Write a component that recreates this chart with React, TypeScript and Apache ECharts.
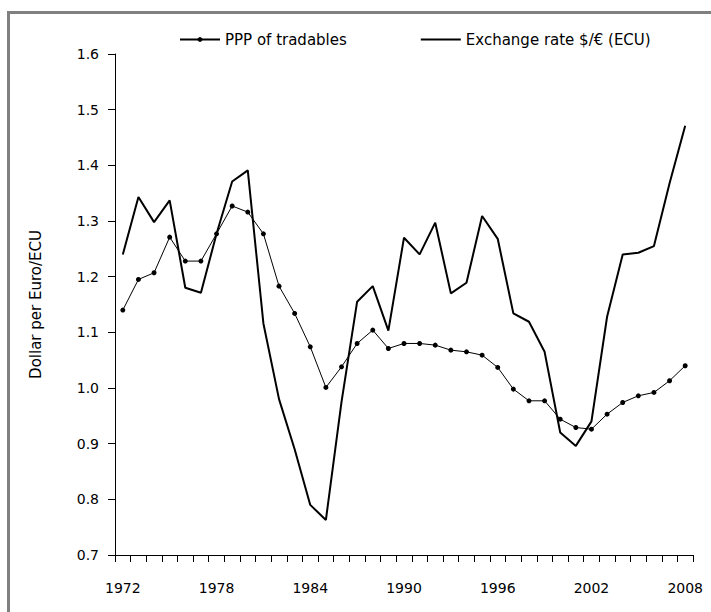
import React, { useEffect, useRef } from "react";
import * as echarts from "echarts";

const years: string[] = [];
for (let y = 1972; y <= 2008; y++) years.push(String(y));

const pppTradables = [
  1.140, 1.195, 1.207, 1.271, 1.228, 1.228, 1.277, 1.327, 1.316, 1.277,
  1.183, 1.134, 1.074, 1.001, 1.038, 1.080, 1.104, 1.071, 1.080, 1.080,
  1.077, 1.068, 1.065, 1.059, 1.037, 0.998, 0.977, 0.977, 0.944, 0.929,
  0.926, 0.953, 0.974, 0.986, 0.992, 1.013, 1.040,
];

const exchangeRate = [
  1.240, 1.343, 1.298, 1.337, 1.180, 1.171, 1.277, 1.371, 1.391, 1.116,
  0.980, 0.890, 0.790, 0.763, 0.975, 1.155, 1.183, 1.103, 1.270, 1.240,
  1.297, 1.170, 1.189, 1.309, 1.268, 1.134, 1.119, 1.065, 0.920, 0.896,
  0.940, 1.128, 1.240, 1.243, 1.255, 1.368, 1.471,
];

const seriesNames = ["PPP of tradables", "Exchange rate $/\u20ac (ECU)"];
const yAxisTitle = "Dollar per Euro/ECU";

const FONT = "DejaVu Sans";

export default function App() {
  const ref = useRef<HTMLDivElement>(null);
  useEffect(() => {
    if (!ref.current) return;
    const chart = echarts.init(ref.current, undefined, { renderer: "svg" });
    chart.setOption({
      animation: false,
      backgroundColor: "#ffffff",
      textStyle: { fontFamily: FONT, color: "#000" },
      graphic: [
        {
          type: "rect",
          shape: { x: 8.5, y: 12.5, width: 800, height: 700 },
          style: { fill: "none", stroke: "#808080", lineWidth: 3 },
          silent: true,
        },
      ],
      legend: {
        left: 174,
        top: 27,
        itemWidth: 40,
        itemHeight: 6,
        itemGap: 74,
        textStyle: { fontFamily: FONT, fontSize: 15, color: "#000" },
        data: [
          { name: seriesNames[0] },
          {
            name: seriesNames[1],
            icon: "path://M0,0H40V2H0Z",
            itemStyle: { color: "#000" },
          },
        ],
      },
      grid: { left: 115, right: 18, top: 54, bottom: 57, containLabel: false },
      xAxis: {
        type: "category",
        data: years,
        boundaryGap: true,
        axisLine: { show: true, lineStyle: { color: "#000", width: 1 } },
        axisTick: {
          show: true,
          interval: 0,
          length: 7,
          lineStyle: { color: "#000", width: 1 },
        },
        axisLabel: {
          show: true,
          interval: 5,
          margin: 26,
          fontFamily: FONT,
          fontSize: 14,
          fontWeight: 400,
          textBorderWidth: 0,
          color: "#000",
        },
        splitLine: { show: false },
      },
      yAxis: {
        type: "value",
        min: 0.7,
        max: 1.6,
        interval: 0.1,
        name: yAxisTitle,
        nameLocation: "middle",
        nameGap: 72,
        nameTextStyle: { fontFamily: FONT, fontSize: 15, color: "#000" },
        axisLine: { show: true, lineStyle: { color: "#000", width: 1 } },
        axisTick: { show: true, length: 7, lineStyle: { color: "#000" } },
        axisLabel: {
          margin: 16,
          fontFamily: FONT,
          fontSize: 14,
          color: "#000",
          formatter: (v: number) => v.toFixed(1),
        },
        splitLine: { show: false },
      },
      series: [
        {
          name: seriesNames[0],
          type: "line",
          data: pppTradables,
          symbol: "circle",
          symbolSize: 5,
          showSymbol: true,
          itemStyle: { color: "#000" },
          lineStyle: { color: "#000", width: 1 },
          z: 3,
        },
        {
          name: seriesNames[1],
          type: "line",
          data: exchangeRate,
          symbol: "none",
          itemStyle: { color: "#000" },
          lineStyle: { color: "#000", width: 2 },
          z: 2,
        },
      ],
    });
    return () => chart.dispose();
  }, []);
  return (
    <div
      ref={ref}
      style={{ position: "absolute", left: 0, top: 0, width: 711, height: 612 }}
    />
  );
}
